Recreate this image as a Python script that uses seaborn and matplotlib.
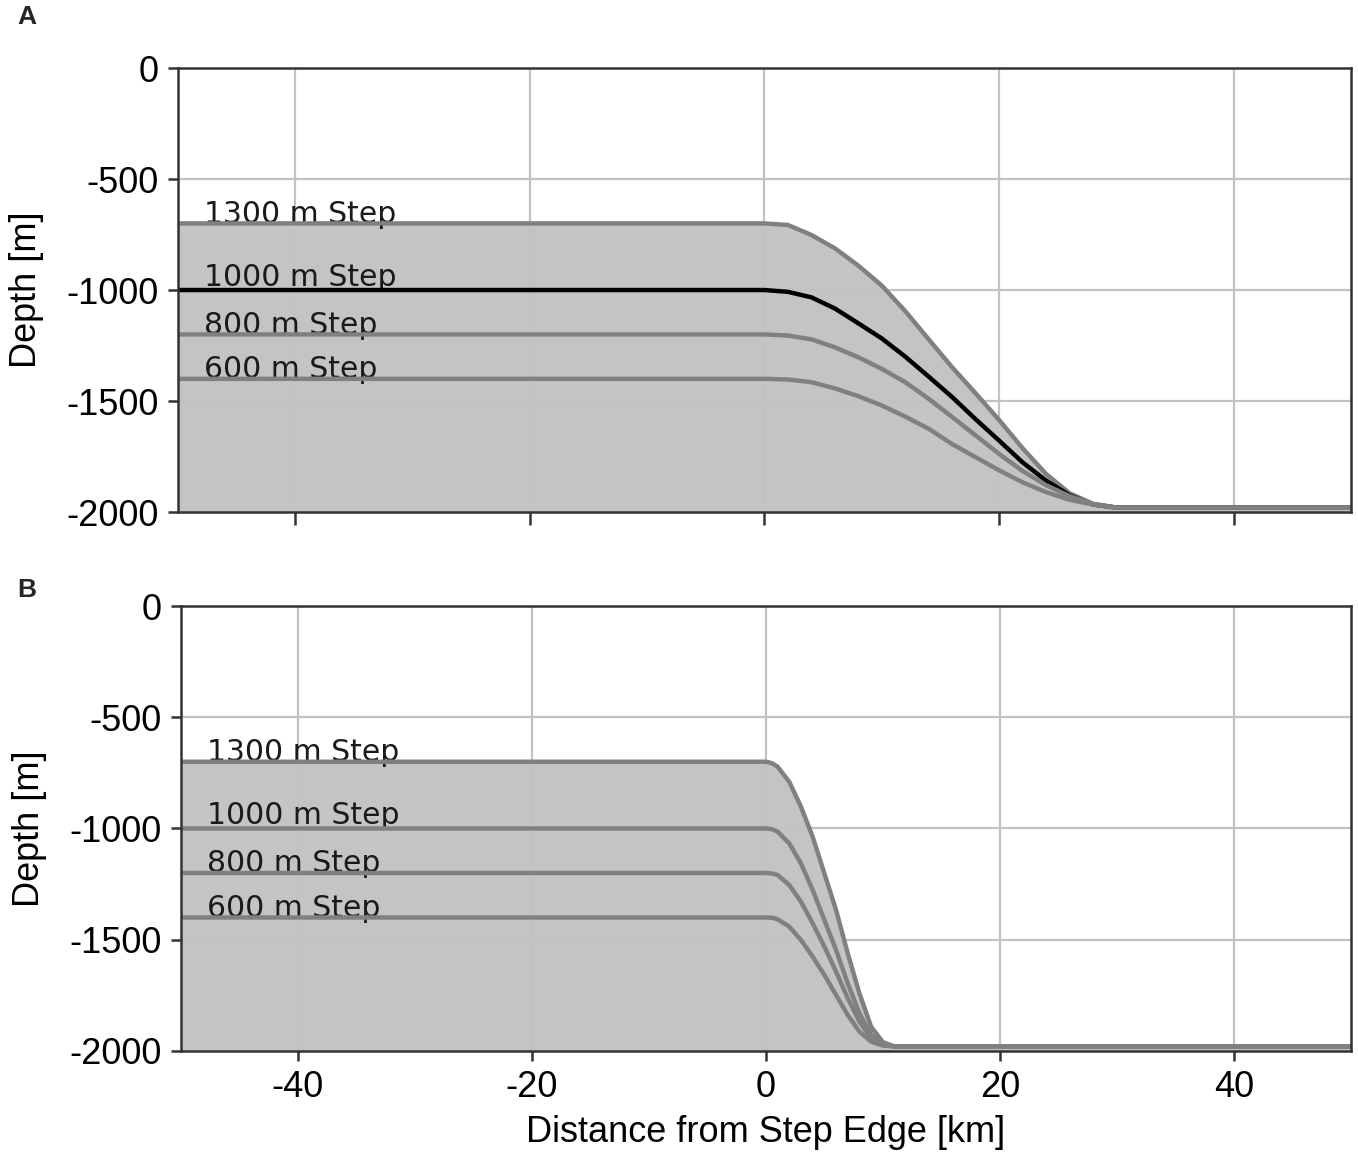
import numpy as np
import pandas as pd
import matplotlib
matplotlib.use("Agg")
import matplotlib.pyplot as plt
import seaborn as sns

# Step profiles (depth in m, distance in km)
step_names = ["1300 m Step", "1000 m Step", "800 m Step", "600 m Step"]
flat_depths = [-700, -1000, -1200, -1400]

# Panel A: wide slope
x_a = [-50, 0, 2, 4, 6, 8, 10, 12, 14, 16, 18, 20, 22, 24, 26, 28, 30, 50]
a_1300 = [-700, -700, -707, -752, -812, -890, -980, -1095, -1222, -1348, -1465, -1585,
          -1712, -1828, -1915, -1963, -1980, -1980]
a_1000 = [-1000, -1000, -1008, -1033, -1083, -1150, -1218, -1300, -1390, -1482, -1582,
          -1678, -1776, -1858, -1924, -1966, -1980, -1980]
a_800 = [-1200, -1200, -1205, -1222, -1258, -1303, -1355, -1415, -1490, -1572, -1655,
         -1738, -1815, -1879, -1928, -1963, -1980, -1980]
a_600 = [-1400, -1400, -1403, -1415, -1443, -1478, -1520, -1570, -1625, -1694, -1753,
         -1812, -1866, -1910, -1945, -1966, -1980, -1980]

# Panel B: steep slope
x_b = [-50, 0, 0.5, 1, 2, 3, 4, 5, 6, 7, 8, 9, 10, 11, 50]
b_1300 = [-700, -700, -706, -722, -790, -902, -1037, -1201, -1366, -1561, -1741, -1891,
          -1960, -1980, -1980]
b_1000 = [-1000, -1000, -1003, -1014, -1067, -1157, -1276, -1411, -1546, -1696, -1831,
          -1928, -1970, -1980, -1980]
b_800 = [-1200, -1200, -1202, -1209, -1254, -1329, -1426, -1531, -1643, -1763, -1868,
         -1943, -1972, -1980, -1980]
b_600 = [-1400, -1400, -1401, -1408, -1441, -1501, -1576, -1658, -1748, -1838, -1913,
         -1958, -1976, -1980, -1980]

x_ticks = [-40, -20, 0, 20, 40]
y_ticks = [0, -500, -1000, -1500, -2000]

sns.set_style("whitegrid")
plt.rcParams["font.family"] = ["Liberation Sans", "DejaVu Sans"]
plt.rcParams["axes.unicode_minus"] = False

fig = plt.figure(figsize=(13.58, 11.53), dpi=100)
ax_a = fig.add_axes([0.1311, 0.5559, 0.8637, 0.3851])
ax_b = fig.add_axes([0.1333, 0.0885, 0.8613, 0.3859])

panels = [
    (ax_a, x_a, [a_1300, a_1000, a_800, a_600], True),
    (ax_b, x_b, [b_1300, b_1000, b_800, b_600], False),
]

for ax, xs, profiles, highlight in panels:
    ax.fill_between(xs, profiles[0], -2000, color="#c4c4c4", lw=0, zorder=1)
    for i, prof in enumerate(profiles):
        df = pd.DataFrame({"x": xs, "depth": prof})
        col = "black" if (highlight and i == 1) else "#808080"
        sns.lineplot(data=df, x="x", y="depth", ax=ax, color=col, lw=3.2,
                     zorder=3, sort=False)
    for name, d in zip(step_names, flat_depths):
        off = 18 if d == -1000 else 4
        ax.text(-47.8, d + off, name, fontsize=21.5, color="#1a1a1a",
                family="DejaVu Sans", va="baseline", ha="left", zorder=2.8)

    ax.set_xlim(-50, 50)
    ax.set_ylim(-2000, 0)
    ax.set_xticks(x_ticks)
    ax.set_yticks(y_ticks)
    ax.set_yticklabels([str(v) for v in y_ticks])
    ax.grid(True, color="#c2c2c2", lw=1.6)
    ax.set_axisbelow(False)
    for sp in ax.spines.values():
        sp.set_color("#333333")
        sp.set_linewidth(1.8)
        sp.set_zorder(6)
    ax.tick_params(axis="both", direction="out", length=7, width=1.8,
                   color="#333333", labelcolor="black", labelsize=26, pad=7,
                   bottom=True, left=True)
    ax.set_ylabel("Depth [m]", fontsize=26, labelpad=16, color="black")
    ax.set_xlabel("")

ax_a.tick_params(axis="x", labelbottom=False, length=9)
ax_b.set_xticklabels([str(v) for v in x_ticks])
ax_b.set_xlabel("Distance from Step Edge [km]", fontsize=26, labelpad=7, color="black")

fig.text(0.02, 0.985, "A", fontsize=19, fontweight="bold", ha="center", va="center")
fig.text(0.02, 0.488, "B", fontsize=19, fontweight="bold", ha="center", va="center")

fig.savefig("out.png", dpi=100)
